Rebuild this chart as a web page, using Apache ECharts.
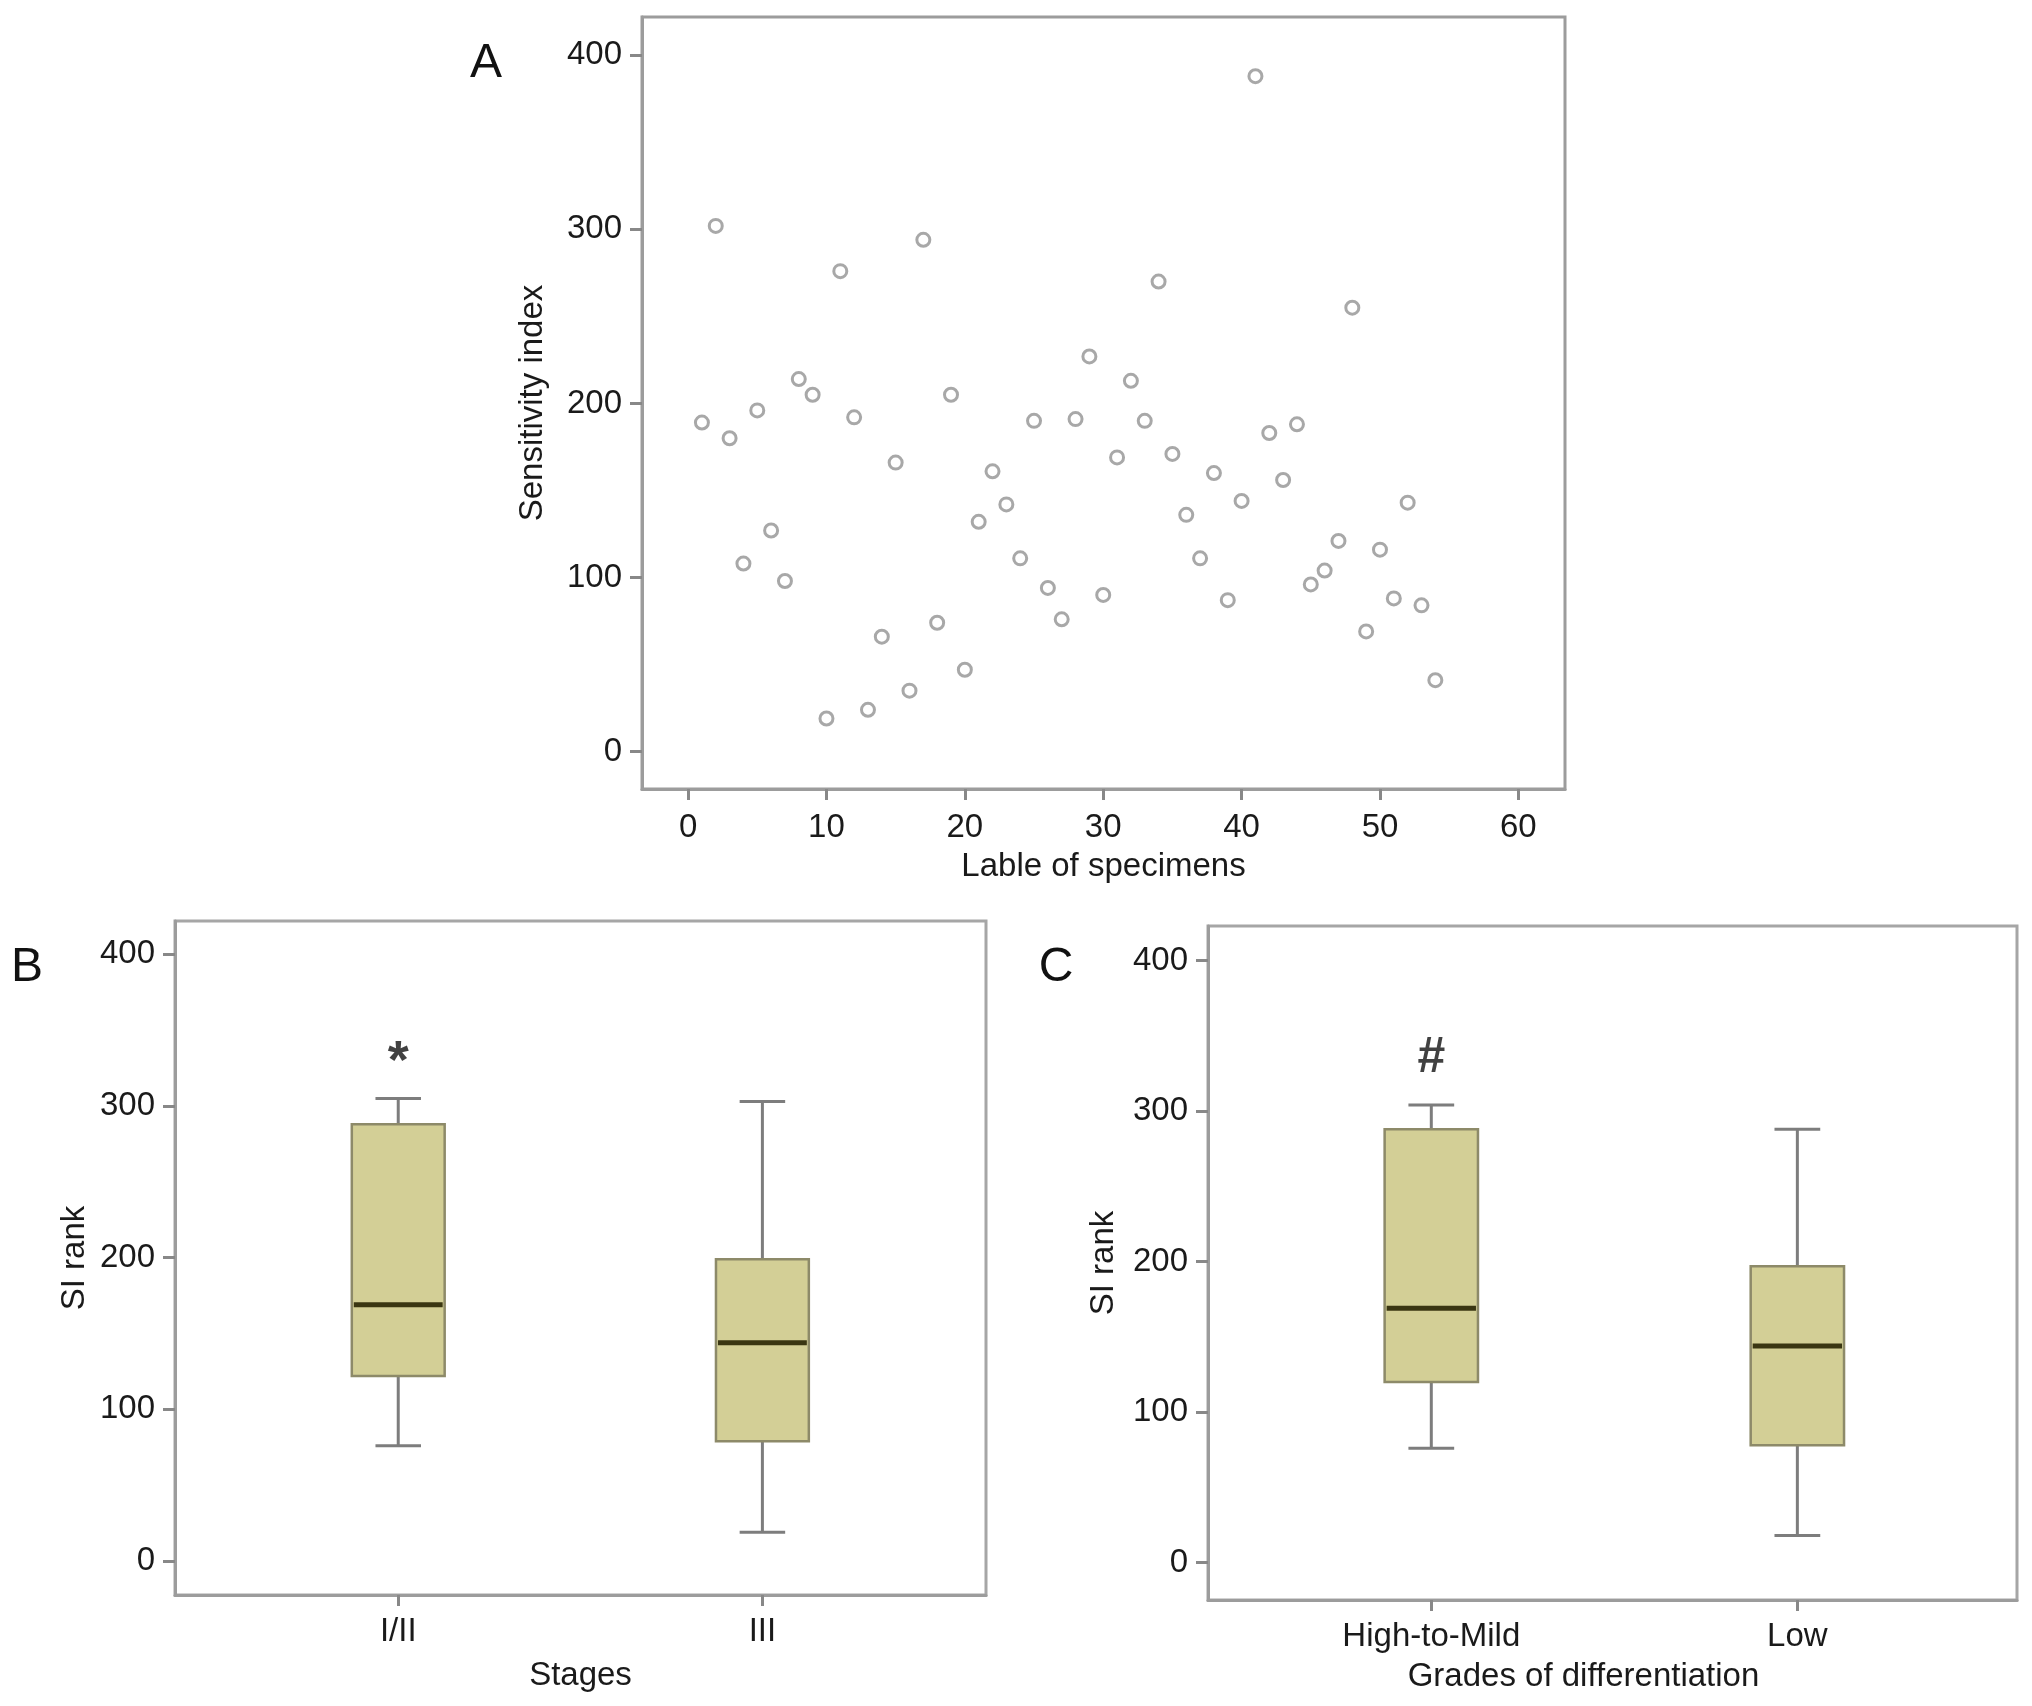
<!DOCTYPE html>
<html><head><meta charset="utf-8">
<script src="https://cdn.jsdelivr.net/npm/echarts@6/dist/echarts.min.js"></script>
<style>html,body{margin:0;padding:0;background:#fff}#c{width:2032px;height:1706px}</style>
</head><body><div id="c"></div>
<script>
// ---- Panel A data ----
const sensitivityIndex = [189, 302, 180, 108, 196, 127, 98, 214, 205, 19,
  276, 192, 24, 66, 166, 35, 294, 74, 205, 47,
  132, 161, 142, 111, 190, 94, 76, 191, 227, 90,
  169, 213, 190, 270, 171, 136, 111, 160, 87, 144,
  388, 183, 156, 188, 96, 104, 121, 255, 69, 116,
  88, 143, 84, 41];
const xTicksA = [0, 10, 20, 30, 40, 50, 60];
const yTicks = [0, 100, 200, 300, 400];

// ---- Panel B data (Stages) ----
const stageCats = ['I/II', 'III'];
const stageMin = [76, 19];
const stageQ1 = [122, 79];
const stageMed = [169, 144];
const stageQ3 = [288, 199];
const stageMax = [305, 303];
const stageMark = ['*', ''];

// ---- Panel C data (Grades) ----
const gradeCats = ['High-to-Mild', 'Low'];
const gradeMin = [76, 18];
const gradeQ1 = [120, 78];
const gradeMed = [169, 144];
const gradeQ3 = [288, 197];
const gradeMax = [304, 288];
const gradeMark = ['#', ''];

const markY = [328, null];
const markYGrade = [335, null];

const FONT = 'Liberation Sans, Arial, Helvetica, sans-serif';
const TXT = '#1a1a1a';
const FRAME = '#9c9c9c';
const BOX_W = 0.255;
const CAP_W = 0.125;

function boxRender(params, api) {
  const x = api.value(0);
  const lo = api.coord([x, api.value(1)]);
  const q1 = api.coord([x, api.value(2)]);
  const md = api.coord([x, api.value(3)]);
  const q3 = api.coord([x, api.value(4)]);
  const hi = api.coord([x, api.value(5)]);
  const bw = api.size([BOX_W, 0])[0];
  const cw = api.size([CAP_W, 0])[0];
  const cx = lo[0];
  const wStyle = {stroke: '#7d7d7d', lineWidth: 3};
  return {type: 'group', children: [
    {type: 'line', shape: {x1: cx, y1: hi[1], x2: cx, y2: q3[1]}, style: wStyle},
    {type: 'line', shape: {x1: cx, y1: q1[1], x2: cx, y2: lo[1]}, style: wStyle},
    {type: 'line', shape: {x1: cx - cw / 2, y1: hi[1], x2: cx + cw / 2, y2: hi[1]}, style: wStyle},
    {type: 'line', shape: {x1: cx - cw / 2, y1: lo[1], x2: cx + cw / 2, y2: lo[1]}, style: wStyle},
    {type: 'rect', shape: {x: cx - bw / 2, y: q3[1], width: bw, height: q1[1] - q3[1]},
      style: {fill: '#d3cf96', stroke: '#8d8a69', lineWidth: 2.5}},
    {type: 'line', shape: {x1: cx - bw / 2 + 2, y1: md[1], x2: cx + bw / 2 - 2, y2: md[1]},
      style: {stroke: '#3a3612', lineWidth: 5}}
  ]};
}

function valueYAxis(gridIndex, min, max, name, nameGap) {
  return {
    type: 'value', gridIndex, min, max, name, nameLocation: 'middle', nameGap,
    nameTextStyle: {fontFamily: FONT, fontSize: 33, color: TXT},
    axisLine: {show: true, onZero: false, lineStyle: {color: FRAME, width: 3}},
    axisTick: {show: true, length: 12, customValues: yTicks, lineStyle: {color: '#888', width: 3}},
    axisLabel: {customValues: yTicks, margin: 20, fontFamily: FONT, fontSize: 33, color: TXT},
    splitLine: {show: false}
  };
}

function catXAxis(gridIndex, min, max, cats, name, nameGap, namePad) {
  return {
    type: 'value', gridIndex, min, max, name, nameLocation: 'middle', nameGap,
    nameTextStyle: {fontFamily: FONT, fontSize: 33, color: TXT, padding: namePad},
    axisLine: {show: true, onZero: false, lineStyle: {color: FRAME, width: 3}},
    axisTick: {show: true, length: 11, customValues: [1, 2], lineStyle: {color: '#888', width: 3}},
    axisLabel: {customValues: [1, 2], margin: 20, fontFamily: FONT, fontSize: 33, color: TXT,
      formatter: v => cats[Math.round(v) - 1] || ''},
    splitLine: {show: false}
  };
}

function boxData(mins, q1s, meds, q3s, maxs) {
  return mins.map((m, i) => [i + 1, m, q1s[i], meds[i], q3s[i], maxs[i]]);
}
function markData(marks, ys) {
  return marks.map((m, i) => m ? {value: [i + 1, ys[i]], label: {formatter: m}} : null).filter(Boolean);
}

const chart = echarts.init(document.getElementById('c'), null, {renderer: 'canvas'});
chart.setOption({
  backgroundColor: '#fff',
  animation: false,
  grid: [
    {left: 642, top: 17, width: 923, height: 772, show: true, borderColor: FRAME, borderWidth: 3},
    {left: 175, top: 921, width: 811, height: 674, show: true, borderColor: '#a6a6a6', borderWidth: 3},
    {left: 1208, top: 926, width: 809, height: 674, show: true, borderColor: '#a6a6a6', borderWidth: 3}
  ],
  xAxis: [
    {
      type: 'value', gridIndex: 0, min: -3.33, max: 63.37, name: 'Lable of specimens',
      nameLocation: 'middle', nameGap: 61,
      nameTextStyle: {fontFamily: FONT, fontSize: 33, color: TXT},
      axisLine: {show: true, onZero: false, lineStyle: {color: FRAME, width: 3}},
      axisTick: {show: true, length: 11, customValues: xTicksA, lineStyle: {color: '#888', width: 3}},
      axisLabel: {customValues: xTicksA, margin: 22, fontFamily: FONT, fontSize: 33, color: TXT},
      splitLine: {show: false}
    },
    catXAxis(1, 0.387, 2.614, stageCats, 'Stages', 64, [0, 0, 0, 0]),
    catXAxis(2, 0.39, 2.60, gradeCats, 'Grades of differentiation', 60, [0, 58, 0, 0])
  ],
  yAxis: [
    valueYAxis(0, -21.5, 422, 'Sensitivity index', 93),
    valueYAxis(1, -22.4, 422, 'SI rank', 84),
    valueYAxis(2, -24.8, 423, 'SI rank', 88)
  ],
  series: [
    {
      type: 'scatter', xAxisIndex: 0, yAxisIndex: 0,
      data: sensitivityIndex.map((v, i) => [i + 1, v]),
      symbol: 'circle', symbolSize: 13,
      itemStyle: {color: 'rgba(255,255,255,0)', borderColor: '#929292', borderWidth: 3}
    },
    {
      type: 'custom', xAxisIndex: 1, yAxisIndex: 1, renderItem: boxRender,
      encode: {x: 0, y: [1, 2, 3, 4, 5]},
      data: boxData(stageMin, stageQ1, stageMed, stageQ3, stageMax)
    },
    {
      type: 'custom', xAxisIndex: 2, yAxisIndex: 2, renderItem: boxRender,
      encode: {x: 0, y: [1, 2, 3, 4, 5]},
      data: boxData(gradeMin, gradeQ1, gradeMed, gradeQ3, gradeMax)
    },
    {
      type: 'scatter', xAxisIndex: 1, yAxisIndex: 1, symbolSize: 0, silent: true,
      data: markData(stageMark, markY),
      label: {show: true, position: 'inside', fontFamily: FONT, fontSize: 54, fontWeight: 'bold', color: '#111'}
    },
    {
      type: 'scatter', xAxisIndex: 2, yAxisIndex: 2, symbolSize: 0, silent: true,
      data: markData(gradeMark, markYGrade),
      label: {show: true, position: 'inside', fontFamily: FONT, fontSize: 50, fontWeight: 'bold', color: '#111'}
    }
  ],
  graphic: [
    {type: 'text', x: 486, y: 64, style: {text: 'A', fontFamily: FONT, fontSize: 48, fill: '#111', align: 'center', verticalAlign: 'middle'}},
    {type: 'text', x: 27, y: 968, style: {text: 'B', fontFamily: FONT, fontSize: 48, fill: '#111', align: 'center', verticalAlign: 'middle'}},
    {type: 'text', x: 1056, y: 968, style: {text: 'C', fontFamily: FONT, fontSize: 48, fill: '#111', align: 'center', verticalAlign: 'middle'}}
  ]
});
</script>
</body></html>
